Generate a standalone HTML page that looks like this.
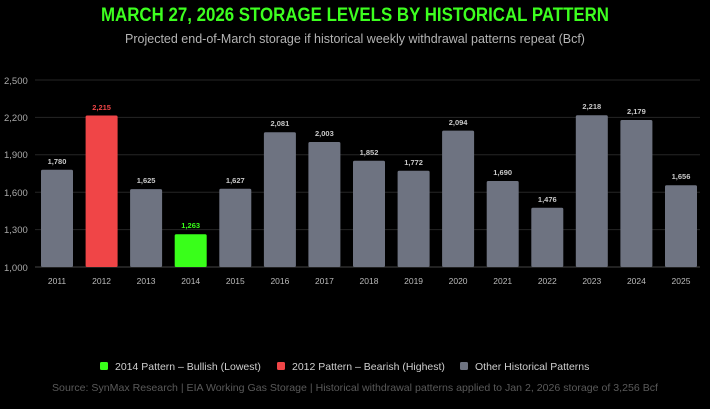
<!DOCTYPE html>
<html><head><style>
body{margin:0;background:#000;width:710px;height:404px;overflow:hidden;font-family:"Liberation Sans",sans-serif}
</style></head><body>
<svg width="710" height="404" xmlns="http://www.w3.org/2000/svg" font-family="Liberation Sans, sans-serif">
<rect width="710" height="404" fill="#000"/>
<text x="101" y="21" textLength="508" lengthAdjust="spacingAndGlyphs" fill="#3dff1f" font-size="19" font-weight="bold">MARCH 27, 2026 STORAGE LEVELS BY HISTORICAL PATTERN</text>
<text x="355" y="43" text-anchor="middle" fill="#b4b4b4" font-size="12.5">Projected end-of-March storage if historical weekly withdrawal patterns repeat (Bcf)</text>
<g stroke="#262626" stroke-width="1">
<line x1="35" x2="700" y1="80" y2="80"/><line x1="35" x2="700" y1="117.4" y2="117.4"/>
<line x1="35" x2="700" y1="154.8" y2="154.8"/><line x1="35" x2="700" y1="192.2" y2="192.2"/>
<line x1="35" x2="700" y1="229.6" y2="229.6"/>
</g>
<line x1="35" x2="700" y1="267" y2="267" stroke="#444"/>
<g fill="#aaa" font-size="9.5" text-anchor="start">
<text x="4" y="84">2,500</text><text x="4" y="121">2,200</text><text x="4" y="158">1,900</text>
<text x="4" y="196">1,600</text><text x="4" y="233">1,300</text><text x="4" y="271">1,000</text>
</g>
<g fill="#6e7381">
<rect x="41" y="169.8" width="32" height="97.2" rx="1.5"/>
<rect x="130.1" y="189.1" width="32" height="77.9" rx="1.5"/>
<rect x="219.3" y="188.8" width="32" height="78.2" rx="1.5"/>
<rect x="263.9" y="132.2" width="32" height="134.8" rx="1.5"/>
<rect x="308.4" y="142" width="32" height="125" rx="1.5"/>
<rect x="353" y="160.8" width="32" height="106.2" rx="1.5"/>
<rect x="397.6" y="170.8" width="32" height="96.2" rx="1.5"/>
<rect x="442.1" y="130.6" width="32" height="136.4" rx="1.5"/>
<rect x="486.7" y="181" width="32" height="86" rx="1.5"/>
<rect x="531.3" y="207.7" width="32" height="59.3" rx="1.5"/>
<rect x="575.8" y="115.2" width="32" height="151.8" rx="1.5"/>
<rect x="620.4" y="120" width="32" height="147" rx="1.5"/>
<rect x="665" y="185.2" width="32" height="81.8" rx="1.5"/>
</g>
<rect x="85.6" y="115.5" width="32" height="151.5" rx="1.5" fill="#f04547"/>
<rect x="174.7" y="234.2" width="32" height="32.8" rx="1.5" fill="#39ff1a"/>
<g fill="#c8c8c8" font-size="7.5" font-weight="bold" text-anchor="middle">
<text x="57" y="164">1,780</text>
<text x="101.6" y="110" fill="#f04547">2,215</text>
<text x="146.1" y="183">1,625</text>
<text x="190.7" y="228" fill="#39ff1a">1,263</text>
<text x="235.3" y="183">1,627</text>
<text x="279.9" y="126">2,081</text>
<text x="324.4" y="136">2,003</text>
<text x="369" y="155">1,852</text>
<text x="413.6" y="165">1,772</text>
<text x="458.1" y="125">2,094</text>
<text x="502.7" y="175">1,690</text>
<text x="547.3" y="202">1,476</text>
<text x="591.8" y="109">2,218</text>
<text x="636.4" y="114">2,179</text>
<text x="681" y="179">1,656</text>
</g>
<g fill="#bbb" font-size="8.5" text-anchor="middle">
<text x="57" y="284">2011</text><text x="101.6" y="284">2012</text><text x="146.1" y="284">2013</text>
<text x="190.7" y="284">2014</text><text x="235.3" y="284">2015</text><text x="279.9" y="284">2016</text>
<text x="324.4" y="284">2017</text><text x="369" y="284">2018</text><text x="413.6" y="284">2019</text>
<text x="458.1" y="284">2020</text><text x="502.7" y="284">2021</text><text x="547.3" y="284">2022</text>
<text x="591.8" y="284">2023</text><text x="636.4" y="284">2024</text><text x="681" y="284">2025</text>
</g>
<g font-size="10.5" fill="#cfcfcf">
<rect x="100" y="362" width="8" height="8" rx="1.5" fill="#39ff1a"/><text x="115" y="370">2014 Pattern – Bullish (Lowest)</text>
<rect x="277" y="362" width="8" height="8" rx="1.5" fill="#f04547"/><text x="292" y="370">2012 Pattern – Bearish (Highest)</text>
<rect x="460" y="362" width="8" height="8" rx="1.5" fill="#6e7381"/><text x="475" y="370">Other Historical Patterns</text>
</g>
<text x="52" y="391" textLength="606" lengthAdjust="spacingAndGlyphs" fill="#5a5a5a" font-size="10.3">Source: SynMax Research | EIA Working Gas Storage | Historical withdrawal patterns applied to Jan 2, 2026 storage of 3,256 Bcf</text>
</svg>
</body></html>
